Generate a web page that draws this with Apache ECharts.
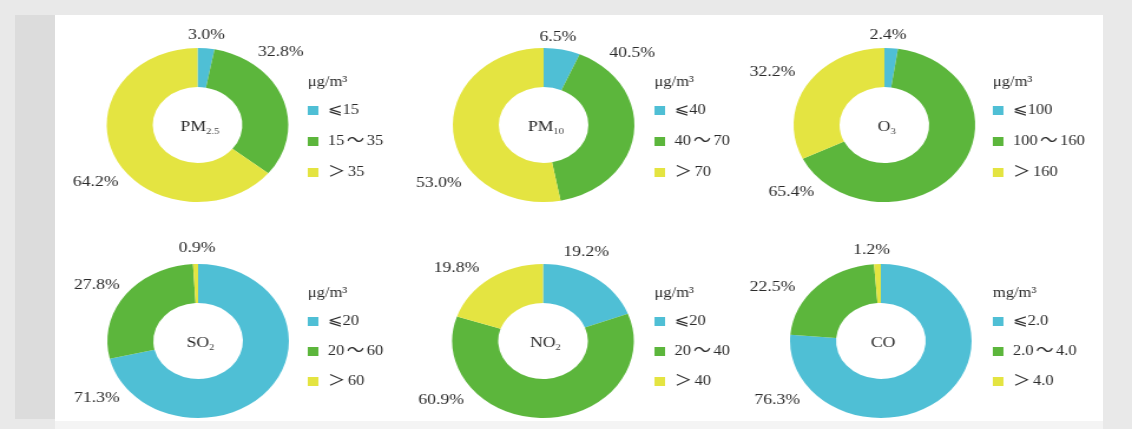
<!DOCTYPE html>
<html>
<head>
<meta charset="utf-8">
<script src="https://cdn.jsdelivr.net/npm/echarts@6/dist/echarts.min.js"></script>
<style>
  html, body { margin: 0; padding: 0; }
  body { width: 1132px; height: 429px; background: #e9e9e9; position: relative; overflow: hidden; }
  #strip { position: absolute; left: 15px; top: 15px; width: 40px; height: 404px; background: #dcdcdc; }
  #panel { position: absolute; left: 55px; top: 15px; width: 1048px; height: 406px; background: #fff; }
  #bottom { position: absolute; left: 55px; top: 421px; width: 1048px; height: 8px; background: #f4f4f4; }
  #main { position: absolute; left: 0; top: 0; width: 960px; height: 429px; transform: scaleX(1.17917); transform-origin: 0 0; }
</style>
</head>
<body>
<div id="strip"></div>
<div id="panel"></div>
<div id="bottom"></div>
<div id="main"></div>
<script>
// the scanned figure is stretched sideways, so the chart is drawn narrower and scaled in x
var pollutants = ['PM{s|2.5}', 'PM{s|10}', 'O{s|3}', 'SO{s|2}', 'NO{s|2}', 'CO'];
var units = ['μg/m³', 'μg/m³', 'μg/m³', 'μg/m³', 'μg/m³', 'mg/m³'];
var classes = [
  ['⩽15', '15～35', '＞35'],
  ['⩽40', '40～70', '＞70'],
  ['⩽100', '100～160', '＞160'],
  ['⩽20', '20～60', '＞60'],
  ['⩽20', '20～40', '＞40'],
  ['⩽2.0', '2.0～4.0', '＞4.0']
];
var shares = [
  [3.0, 32.8, 64.2],
  [6.5, 40.5, 53.0],
  [2.4, 65.4, 32.2],
  [71.3, 27.8, 0.9],
  [19.2, 60.9, 19.8],
  [76.3, 22.5, 1.2]
];
var colors = ['#4fbfd5', '#5cb63c', '#e4e441'];

// layout (chart px, before the x stretch)
var centers = [[167.5, 125], [461, 125], [750, 125], [168, 341], [460.5, 341], [747, 341]];
var labelPos = [
  [[175, 35], [238, 52], [81, 182]],
  [[473, 37], [536, 53], [372, 183]],
  [[753, 35], [671, 192], [655, 72]],
  [[82, 398], [82, 285], [167, 248]],
  [[497, 252], [374, 400], [387, 268]],
  [[659, 400], [655, 287], [739, 250]]
];
var legendPos = [[261, 103], [555, 103], [842, 103], [261, 314], [555, 314], [842, 314]];
var font = '"Liberation Serif", "Times New Roman", serif';
var symFont = '"DejaVu Serif", "DejaVu Sans", "Noto Sans CJK SC", serif';

var chart = echarts.init(document.getElementById('main'));

var series = [];
var legends = [];
var graphics = [];
for (var i = 0; i < pollutants.length; i++) {
  var data = [];
  for (var j = 0; j < 3; j++) {
    data.push({ name: classes[i][j], value: shares[i][j], itemStyle: { color: colors[j] } });
  }
  series.push({
    type: 'pie',
    radius: [38, 77],
    center: centers[i],
    startAngle: 90,
    clockwise: true,
    avoidLabelOverlap: false,
    silent: true,
    label: {
      show: true,
      formatter: function (p) { return p.value.toFixed(1) + '%'; },
      fontFamily: font,
      fontSize: 15,
      color: '#2b2b2b'
    },
    labelLine: { show: false },
    labelLayout: function (p) {
      var pos = labelPos[p.seriesIndex][p.dataIndex];
      return { x: pos[0], y: pos[1], align: 'center', verticalAlign: 'middle' };
    },
    data: data
  });
  legends.push({
    orient: 'vertical',
    left: legendPos[i][0],
    top: legendPos[i][1],
    padding: 0,
    itemWidth: 9,
    itemHeight: 9,
    itemGap: i < 3 ? 16 : 15,
    icon: 'rect',
    selectedMode: false,
    data: classes[i],
    formatter: function (name) {
      return name.replace('⩽', '{le|⩽}').replace('～', '{t|～}').replace('＞', '{gt|＞}');
    },
    textStyle: {
      fontFamily: font, fontSize: 14, lineHeight: 14, color: '#2b2b2b', padding: [0, 0, 0, 3],
      rich: {
        le: { fontFamily: symFont, fontSize: 15, lineHeight: 14, color: '#2b2b2b' },
        t: { fontFamily: symFont, fontSize: 15, lineHeight: 14, color: '#2b2b2b', padding: [0, 2, 0, 2] },
        gt: { fontFamily: symFont, fontSize: 15, lineHeight: 14, color: '#2b2b2b', padding: [0, 2, 0, 0] }
      }
    }
  });
  graphics.push({
    type: 'text',
    x: legendPos[i][0],
    y: legendPos[i][1] - 21,
    style: { text: units[i], font: '14px ' + font, fill: '#2b2b2b', align: 'left', verticalAlign: 'middle' }
  });
  graphics.push({
    type: 'text',
    x: centers[i][0] + 2,
    y: centers[i][1] + 2,
    style: {
      text: pollutants[i],
      fontFamily: font,
      fontSize: 15,
      lineHeight: 18,
      fill: '#2b2b2b',
      align: 'center',
      verticalAlign: 'middle',
      rich: {
        s: { fontFamily: font, fontSize: 9, lineHeight: 18, verticalAlign: 'bottom', fill: '#444' }
      }
    }
  });
}

chart.setOption({
  animation: false,
  backgroundColor: 'transparent',
  legend: legends,
  series: series,
  graphic: graphics
});
</script>
</body>
</html>
